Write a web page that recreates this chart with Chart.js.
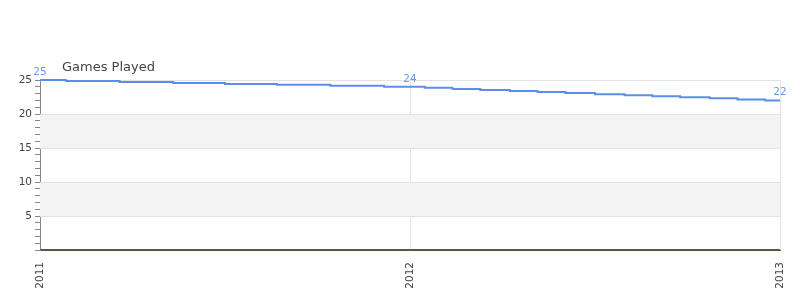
<!DOCTYPE html>
<html>
<head>
<meta charset="utf-8">
<script src="https://cdn.jsdelivr.net/npm/chart.js@4/dist/chart.umd.min.js"></script>
<style>
  html, body { margin: 0; padding: 0; background: #fff; }
  #wrap { width: 800px; height: 300px; }
</style>
</head>
<body>
<div id="wrap"><canvas id="gamesChart" width="800" height="300"></canvas></div>
<script>
// data
const years = [2011, 2011.14, 2011.29, 2011.43, 2011.57, 2011.71, 2011.86, 2012,
  2012.08, 2012.15, 2012.23, 2012.31, 2012.38, 2012.46, 2012.54, 2012.62,
  2012.69, 2012.77, 2012.85, 2012.92, 2013];
const gamesPlayed = [25, 24.86, 24.71, 24.57, 24.43, 24.29, 24.14, 24,
  23.85, 23.69, 23.54, 23.38, 23.23, 23.08, 22.92, 22.77,
  22.62, 22.46, 22.31, 22.15, 22];
const baseYears = [2011, 2013];
const baseValues = [0, 0];
const labelIdx = [0, 7, 20];
const xTicks = [2011, 2012, 2013];
const yMajor = [5, 10, 15, 20, 25];

const FONT = '"DejaVu Sans", Verdana, sans-serif';

// alternating grey bands + title + point labels
const decor = {
    id: 'decor',
    beforeDatasetsDraw(chart) {
        const { ctx, chartArea: a, scales: { y } } = chart;
        ctx.save();
        ctx.fillStyle = '#f3f3f3';
        [[5, 10], [15, 20]].forEach(([lo, hi]) => {
            const top = y.getPixelForValue(hi), bot = y.getPixelForValue(lo);
            ctx.fillRect(a.left, top, a.right - a.left, bot - top);
        });
        ctx.strokeStyle = '#e2e2e2';
        ctx.lineWidth = 1;
        yMajor.forEach(v => {
            const py = Math.round(y.getPixelForValue(v)) + 0.5;
            ctx.beginPath(); ctx.moveTo(a.left, py); ctx.lineTo(a.right, py); ctx.stroke();
        });
        ctx.restore();
    },
    afterDatasetsDraw(chart) {
        const { ctx, chartArea: a } = chart;
        ctx.save();
        ctx.font = '13px ' + FONT;
        ctx.fillStyle = '#444';
        ctx.textAlign = 'left';
        ctx.textBaseline = 'alphabetic';
        ctx.fillText('Games Played', a.left + 22, a.top - 9);

        const meta = chart.getDatasetMeta(0);
        ctx.font = '10.5px ' + FONT;
        ctx.fillStyle = '#6a9ae6';
        ctx.textAlign = 'center';
        labelIdx.forEach(i => {
            const p = meta.data[i];
            ctx.fillText(String(gamesPlayed[i]), p.x, p.y - 5);
        });
        ctx.restore();
    }
};

const ctx = document.getElementById('gamesChart').getContext('2d');
new Chart(ctx, {
    type: 'line',
    data: {
        datasets: [{
            data: years.map((x, i) => ({ x: x, y: gamesPlayed[i] })),
            borderColor: '#5b8ee8',
            borderWidth: 2,
            pointRadius: 0,
            stepped: 'middle',
            clip: false
        }, {
            data: baseYears.map((x, i) => ({ x: x, y: baseValues[i] })),
            borderColor: '#d62020',
            borderWidth: 2,
            pointRadius: 0,
            clip: { left: 0, top: 0, right: 0, bottom: 0 }
        }]
    },
    options: {
        responsive: false,
        animation: false,
        layout: { padding: { top: 80, right: 20, left: 0, bottom: 0 } },
        plugins: {
            legend: { display: false },
            tooltip: { enabled: false },
            title: { display: false }
        },
        scales: {
            x: {
                type: 'linear',
                min: 2011,
                max: 2013,
                afterBuildTicks: s => { s.ticks = xTicks.map(v => ({ value: v })); },
                afterFit: s => { s.height = 50; s.paddingLeft = 0; s.paddingRight = 0; },
                ticks: {
                    callback: v => String(v),
                    minRotation: 90,
                    maxRotation: 90,
                    color: '#444',
                    font: { family: FONT, size: 10.5 },
                    padding: 12
                },
                grid: { color: '#e2e2e2', drawTicks: false },
                border: { color: '#555', width: 1 }
            },
            y: {
                min: 0,
                max: 25,
                afterFit: s => { s.width = 40; },
                ticks: {
                    stepSize: 1,
                    autoSkip: false,
                    callback: v => (v > 0 && v % 5 === 0) ? String(v) : '',
                    color: '#444',
                    font: { family: FONT, size: 10.5 },
                    padding: 3
                },
                grid: {
                    drawOnChartArea: false,
                    tickLength: 5,
                    tickColor: '#888'
                },
                border: { color: '#888', width: 1 }
            }
        }
    },
    plugins: [decor]
});
</script>
</body>
</html>
